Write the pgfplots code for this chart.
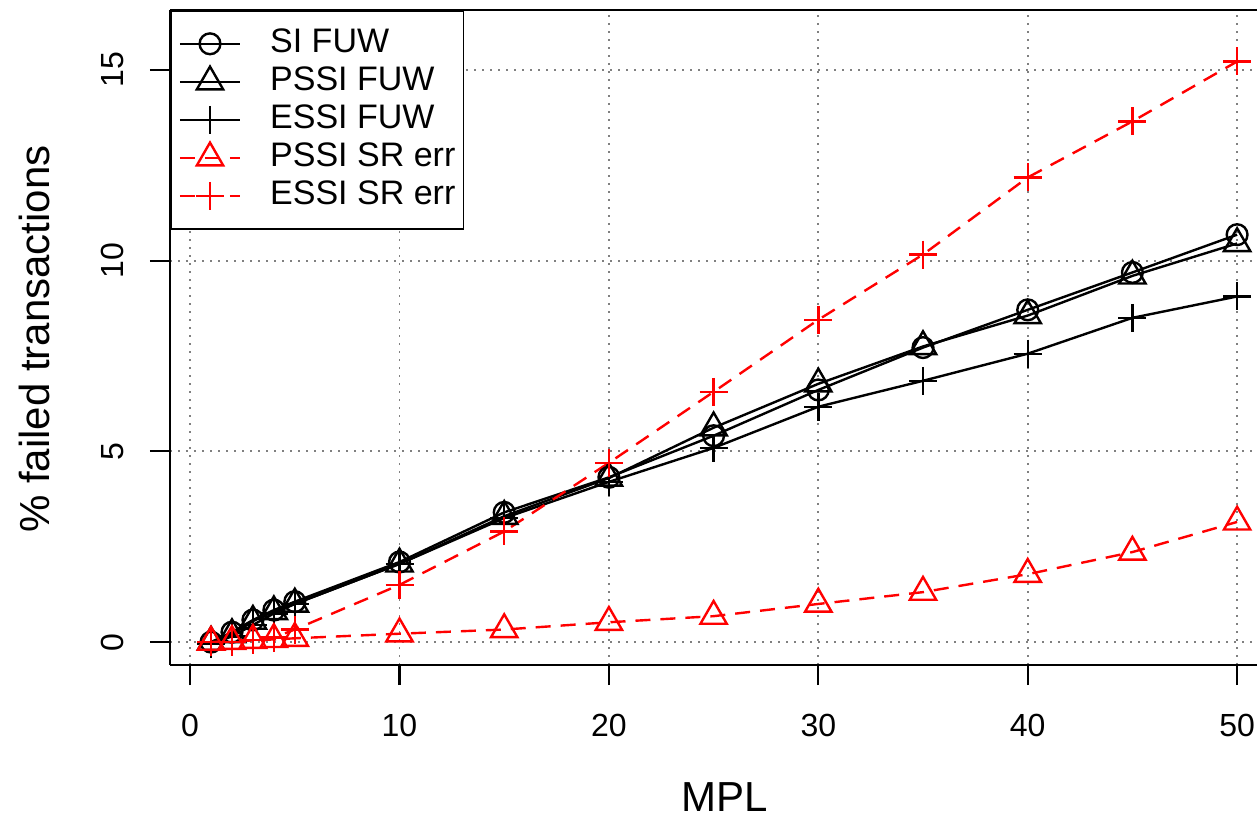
\documentclass[border=0pt]{standalone}
\usepackage{fontspec}
\setmainfont{Liberation Sans}
\usepackage{pgfplots}
\pgfplotsset{compat=1.18}

\pgfplotstableread{
x    si    pssi  essi  pssisr essisr
1    0.00  0.00  -0.05 0.00   0.00
2    0.26  0.20  0.15  0.02   0.00
3    0.58  0.55  0.45  0.05   0.05
4    0.84  0.80  0.75  0.07   0.12
5    1.06  1.00  1.00  0.10   0.33
10   2.10  2.05  2.05  0.22   1.50
15   3.40  3.30  3.25  0.33   2.90
20   4.32  4.30  4.20  0.52   4.70
25   5.41  5.62  5.09  0.68   6.56
30   6.61  6.77  6.17  1.00   8.45
35   7.72  7.75  6.85  1.31   10.16
40   8.71  8.56  7.56  1.78   12.18
45   9.69  9.60  8.50  2.36   13.65
50   10.68 10.45 9.06  3.15   15.22
}\datatable

\begin{document}
\begin{tikzpicture}
\begin{axis}[
  name=ax,
  scale only axis, width=543.5pt, height=327.5pt,
  xmin=-0.96, xmax=50.95, ymin=-0.6, ymax=16.57,
  axis x line*=bottom, axis y line*=left,
  axis line style={line width=1.1pt},
  every tick/.style={line width=1.1pt, black},
  tick align=outside, major tick length=10pt,
  xtick={0,10,20,30,40,50}, ytick={0,5,10,15},
  /pgf/number format/assume math mode=true,
  ticklabel style={font=\fontsize{16}{19}\selectfont},
  xticklabel style={yshift=-11pt},
  yticklabel style={xshift=-9.5pt, rotate=90, anchor=south},
  grid=major,
  grid style={gray, line width=0.9pt, dash pattern=on 0.9pt off 3.1pt},
  xlabel={MPL},
  ylabel={\% failed transactions},
  xlabel style={font=\fontsize{21}{25}\selectfont, at={(rel axis cs:0.5106,-0.2015)}, anchor=center, inner sep=0pt},
  ylabel style={font=\fontsize{21}{25}\selectfont, at={(rel axis cs:-0.1242,0.4977)}, anchor=center},
  legend style={at={(rel axis cs:0,1)}, anchor=north west, draw=black, line width=0.8pt,
    font=\fontsize{17}{20}\selectfont, inner xsep=4pt, inner ysep=8.5pt, row sep=3pt,
    nodes={inner sep=0pt, text height=12.5pt, text depth=3.5pt},
    cells={anchor=west}},
  legend image code/.code={\draw[mark repeat=2, mark phase=2] plot coordinates {(0pt,0pt) (15pt,0pt) (30pt,0pt)};},
  legend cell align=left,
  clip=false,
]
\addplot[black, line width=1.2pt, mark=o, mark size=5.2pt, mark options={solid}] table[x=x, y=si] {\datatable};
\addlegendentry{\hspace{14.5pt}SI FUW}
\addplot[black, line width=1.2pt, mark=triangle, mark size=7.6pt, mark options={solid}] table[x=x, y=pssi] {\datatable};
\addlegendentry{\hspace{14.5pt}PSSI FUW}
\addplot[black, line width=1.2pt, mark=+, mark size=7pt, mark options={solid}] table[x=x, y=essi] {\datatable};
\addlegendentry{\hspace{14.5pt}ESSI FUW}
\addplot[red, line width=1.2pt, dash pattern=on 7.5pt off 5pt, mark=triangle, mark size=7.6pt, mark options={solid}] table[x=x, y=pssisr] {\datatable};
\addlegendentry{\hspace{14.5pt}PSSI SR err}
\addplot[red, line width=1.2pt, dash pattern=on 7.5pt off 5pt, mark=+, mark size=7pt, mark options={solid}] table[x=x, y=essisr] {\datatable};
\addlegendentry{\hspace{14.5pt}ESSI SR err}
\draw[line width=1.1pt] (rel axis cs:0,1) -- (rel axis cs:1,1);
\end{axis}
\pgfresetboundingbox
\path[use as bounding box] ([xshift=-85pt,yshift=-76.5pt]ax.south west) rectangle ([xshift=543.5pt,yshift=332.5pt]ax.south west);
\end{tikzpicture}
\end{document}
